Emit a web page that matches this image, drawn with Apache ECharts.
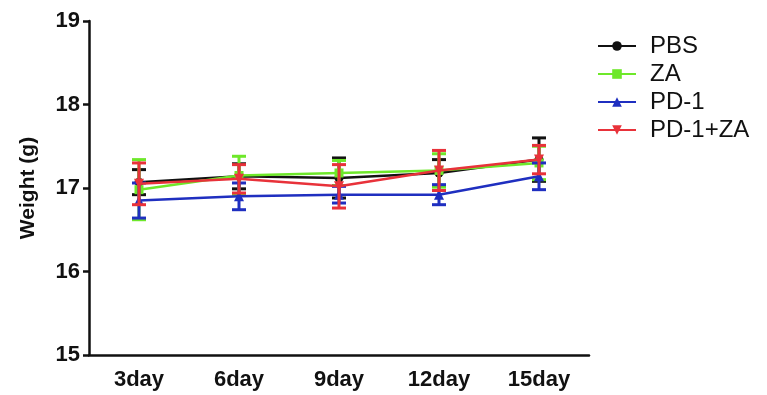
<!DOCTYPE html>
<html>
<head>
<meta charset="utf-8">
<script src="https://cdn.jsdelivr.net/npm/echarts@6/dist/echarts.min.js"></script>
<style>html,body{margin:0;padding:0;background:#fff}#c{width:767px;height:395px}</style>
</head>
<body>
<div id="c"></div>
<script>
var categories = ['3day', '6day', '9day', '12day', '15day'];
var seriesNames = ['PBS', 'ZA', 'PD-1', 'PD-1+ZA'];
var pbsMean = [17.07, 17.14, 17.12, 17.18, 17.34];
var pbsErr  = [0.15, 0.15, 0.24, 0.16, 0.26];
var zaMean  = [16.98, 17.15, 17.18, 17.21, 17.30];
var zaErr   = [0.36, 0.23, 0.15, 0.20, 0.20];
var pd1Mean = [16.85, 16.90, 16.92, 16.92, 17.14];
var pd1Err  = [0.21, 0.16, 0.10, 0.12, 0.16];
var comboMean = [17.05, 17.11, 17.02, 17.21, 17.34];
var comboErr  = [0.25, 0.17, 0.26, 0.24, 0.17];
var yTicks = [15, 16, 17, 18, 19];

var means = [pbsMean, zaMean, pd1Mean, comboMean];
var errs = [pbsErr, zaErr, pd1Err, comboErr];
var colors = ['#111111', '#6ee82a', '#1f2fc0', '#e8323a'];
var symbols = ['circle', 'rect', 'triangle', 'path://M0,0 L10,0 L5,9 Z'];
var sizes = [9, 9, 10, 10];

var chart = echarts.init(document.getElementById('c'));
var series = [];
for (var i = 0; i < 4; i++) {
  (function (i) {
    var errData = means[i].map(function (m, k) { return [k, m - errs[i][k], m + errs[i][k]]; });
    series.push({
      name: seriesNames[i] + ' err',
      type: 'custom',
      z: 2 + i * 2,
      data: errData,
      renderItem: function (params, api) {
        var x = api.value(0);
        var lo = api.coord([x, api.value(1)]);
        var hi = api.coord([x, api.value(2)]);
        var hw = 7;
        var st = { stroke: colors[i], lineWidth: 3 };
        return {
          type: 'group',
          children: [
            { type: 'line', shape: { x1: hi[0], y1: hi[1], x2: lo[0], y2: lo[1] }, style: st },
            { type: 'line', shape: { x1: hi[0] - hw, y1: hi[1], x2: hi[0] + hw, y2: hi[1] }, style: st },
            { type: 'line', shape: { x1: lo[0] - hw, y1: lo[1], x2: lo[0] + hw, y2: lo[1] }, style: st }
          ]
        };
      }
    });
    series.push({
      name: seriesNames[i],
      type: 'line',
      z: 3 + i * 2,
      data: means[i],
      symbol: symbols[i],
      symbolSize: sizes[i],
      showAllSymbol: true,
      itemStyle: { color: colors[i] },
      lineStyle: { color: colors[i], width: 2.5 }
    });
  })(i);
}

var labelFont = { fontFamily: 'Liberation Sans, Arial, sans-serif', fontWeight: 'bold', color: '#111' };

chart.setOption({
  animation: false,
  backgroundColor: '#fff',
  grid: { left: 89, right: 178, top: 21, bottom: 40, containLabel: false },
  legend: {
    data: seriesNames,
    orient: 'vertical',
    left: 592,
    top: 29,
    itemWidth: 38,
    itemHeight: 12,
    itemGap: 4,
    textStyle: { fontFamily: 'Liberation Sans, Arial, sans-serif', fontSize: 24, lineHeight: 24, color: '#111', padding: [0, 0, 0, 9] }
  },
  xAxis: {
    type: 'category',
    data: categories,
    boundaryGap: true,
    axisLine: { lineStyle: { color: '#111', width: 2.5 } },
    axisTick: { alignWithLabel: true, length: 7, lineStyle: { color: '#111', width: 2.5 } },
    axisLabel: Object.assign({ fontSize: 22, margin: 14 }, labelFont)
  },
  yAxis: {
    type: 'value',
    min: yTicks[0],
    max: yTicks[yTicks.length - 1],
    interval: 1,
    name: 'Weight (g)',
    nameLocation: 'middle',
    nameGap: 50,
    nameTextStyle: Object.assign({ fontSize: 21 }, labelFont),
    splitLine: { show: false },
    axisLine: { show: true, lineStyle: { color: '#111', width: 2.5 } },
    axisTick: { show: true, length: 6, lineStyle: { color: '#111', width: 2.5 } },
    axisLabel: Object.assign({ fontSize: 22, margin: 9 }, labelFont)
  },
  series: series
});
</script>
</body>
</html>
